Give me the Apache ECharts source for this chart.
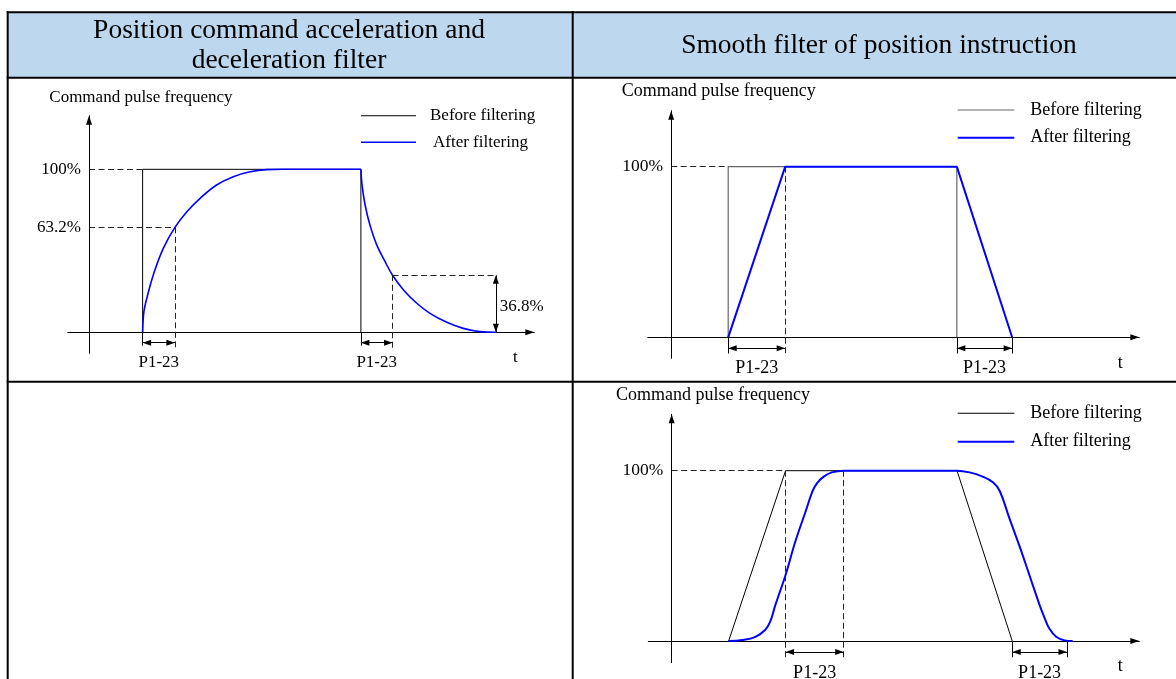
<!DOCTYPE html>
<html>
<head>
<meta charset="utf-8">
<title>Position command filters</title>
<script src="https://cdn.jsdelivr.net/npm/echarts@6.0.0/dist/echarts.min.js"></script>
<style>
  html, body { margin: 0; padding: 0; background: #fff; }
  #chart { width: 1176px; height: 679px; }
</style>
</head>
<body>
<div id="chart"></div>
<script>
// x is time in P1-23 units, y is the fraction of 100% command pulse frequency

// panel 1: acceleration / deceleration filter
var accBefore = [[1.66, 0], [1.66, 1], [8.42, 1], [8.42, 0]];
var accAfterRise = [[1.66, 0], [1.70, 0.127], [1.79, 0.208], [1.99, 0.352], [2.30, 0.515], [2.66, 0.644],
  [3.03, 0.740], [3.44, 0.822], [3.95, 0.904], [4.47, 0.955], [4.99, 0.985], [5.50, 0.998], [6.00, 1], [8.42, 1]];
var accAfterFall = [[8.42, 1], [8.455, 0.904], [8.55, 0.781], [8.70, 0.658], [8.91, 0.536], [9.17, 0.433],
  [9.40, 0.350], [9.74, 0.260], [10.15, 0.178], [10.56, 0.116], [11.08, 0.061], [11.59, 0.024], [12.11, 0.004], [12.60, 0]];
var accWindows = [[1.66, 2.66], [8.42, 9.40]];
var accLevels = [1, 0.644, 0.35];
var accTailEnd = 12.6;
var accYTicks = [0.644, 1];
var accYLabels = ['63.2%', '100%'];

// panel 2: smooth filter, step command
var stepBefore = [[1.0, 0], [1.0, 1], [5.01, 1], [5.01, 0]];
var stepAfter = [[1.0, 0], [2.0, 1], [5.01, 1], [5.98, 0]];
var stepWindows = [[1.0, 2.0], [5.01, 5.98]];

// panel 3: smooth filter, ramp command
var rampBefore = [[1.0, 0], [2.0, 1], [5.01, 1], [5.98, 0]];
var rampAfter = [[1.0, 0], [1.24, 0.006], [1.47, 0.025], [1.64, 0.065], [1.73, 0.114], [1.82, 0.211], [2.0, 0.388],
  [2.17, 0.583], [2.35, 0.759], [2.47, 0.877], [2.55, 0.926], [2.67, 0.965], [2.81, 0.990], [3.02, 1], [5.01, 1],
  [5.23, 0.990], [5.46, 0.965], [5.64, 0.932], [5.76, 0.881], [5.93, 0.720], [6.11, 0.554], [6.28, 0.388],
  [6.46, 0.211], [6.55, 0.133], [6.63, 0.074], [6.75, 0.025], [6.90, 0.004], [7.04, 0]];
var rampWindows = [[2.0, 3.02], [5.98, 6.94]];

var smoothYTicks = [1];
var smoothYLabels = ['100%'];

var serif = 'Liberation Serif';
var arrowHead = 'path://M0,0M0,9L3,18L-3,18Z';
var blue = '#0000ff';

function seg(a, b) {
  return [{ coord: a }, { coord: b }];
}
function tagged(a, b, text, dist) {
  return [{ coord: a, label: { show: true, formatter: text, position: 'insideMiddleBottom', distance: dist } }, { coord: b }];
}

function xAxisFor(g, min, max, size, pad) {
  return {
    type: 'value', gridIndex: g, min: min, max: max,
    name: 't', nameLocation: 'end', nameGap: -19, nameMoveOverlap: false,
    nameTextStyle: { fontFamily: serif, fontSize: size, color: '#000', align: 'center', verticalAlign: 'top', padding: [pad, 0, 0, 0] },
    axisLine: { onZero: true, symbol: ['none', arrowHead], symbolSize: [6, 18], lineStyle: { color: '#000', width: 1 } },
    axisTick: { show: false }, axisLabel: { show: false }, splitLine: { show: false }
  };
}
// labels stay at the grid edge, so the margin is pulled back to sit next to the zero-crossing axis
function yAxisFor(g, min, max, ticks, labels, size, margin) {
  return {
    type: 'value', gridIndex: g, min: min, max: max,
    axisLine: { onZero: true, symbol: ['none', arrowHead], symbolSize: [6, 18], lineStyle: { color: '#000', width: 1 } },
    axisTick: { show: false }, splitLine: { show: false },
    axisLabel: {
      customValues: ticks, margin: margin, fontFamily: serif, fontSize: size, color: '#000',
      formatter: function (v) {
        for (var i = 0; i < ticks.length; i++) { if (Math.abs(ticks[i] - v) < 1e-6) return labels[i]; }
        return '';
      }
    }
  };
}
function markSeries(g, lines, dashed, arrows, size, points) {
  var s = {
    type: 'line', name: 'marks' + g + (dashed ? 'd' : '') + (arrows ? 'a' : ''),
    xAxisIndex: g, yAxisIndex: g, data: [], silent: true,
    markLine: {
      silent: true, animation: false,
      symbol: arrows ? [arrowHead, arrowHead] : 'none', symbolSize: [6, 17],
      label: { show: false, fontFamily: serif, fontSize: size, color: '#000' },
      lineStyle: { type: dashed ? [6, 3.5] : 'solid', color: dashed ? '#222' : '#000', width: 1 },
      emphasis: { disabled: true },
      data: lines
    }
  };
  if (points) {
    s.markPoint = {
      silent: true, animation: false, symbol: 'circle', symbolSize: 0,
      label: { show: true, position: 'right', distance: 4, fontFamily: serif, fontSize: size, color: '#000' },
      data: points
    };
  }
  return s;
}
function legendFor(left, top, gap, width, pad, size, beforeColor, afterIcon, afterPad) {
  return {
    orient: 'vertical', left: left, top: top, padding: 0, itemGap: gap,
    itemWidth: width, itemHeight: 14, selectedMode: false, symbolKeepAspect: true,
    textStyle: { fontFamily: serif, fontSize: size, color: '#000', lineHeight: 20, padding: [0, 0, 0, pad] },
    data: [
      { name: 'Before filtering', icon: 'path://M0,0H56V1H0Z', itemStyle: { color: beforeColor, borderWidth: 0 } },
      { name: 'After filtering', icon: afterIcon, itemStyle: { color: blue, borderWidth: 0 },
        textStyle: { padding: [0, 0, 0, afterPad] } }
    ]
  };
}

var chartDom = document.getElementById('chart');
var myChart = echarts.init(chartDom, null, { renderer: 'canvas' });

var accDashBottom = -0.096, accTickBottom = -0.082, accArrowY = -0.064;
var smDashBottom = -0.095, smArrowY = -0.064;

var option = {
  animation: false,
  backgroundColor: '#fff',
  textStyle: { fontFamily: serif },
  grid: [
    { left: 67.7, top: 115.7, width: 466.6, height: 237.6, containLabel: false, outerBoundsMode: 'none' },
    { left: 647.8, top: 110.7, width: 491.5, height: 247.6, containLabel: false, outerBoundsMode: 'none' },
    { left: 648.3, top: 414.3, width: 491, height: 248.4, containLabel: false, outerBoundsMode: 'none' }
  ],
  xAxis: [
    xAxisFor(0, -0.66, 13.79, 17, 17),
    xAxisFor(1, -0.41, 8.21, 18, 17),
    xAxisFor(2, -0.41, 8.21, 18, 16.7)
  ],
  yAxis: [
    yAxisFor(0, -0.129, 1.329, accYTicks, accYLabels, 17, -13.3),
    yAxisFor(1, -0.123, 1.328, smoothYTicks, smoothYLabels, 17.5, -15.4),
    yAxisFor(2, -0.127, 1.331, smoothYTicks, smoothYLabels, 17.5, -15)
  ],
  legend: [
    legendFor(361, 105.7, 6.6, 55, 9, 17, '#000', 'path://M0,0H35V1H0Z', 12),
    legendFor(957.7, 100, 7.7, 56.6, 11, 18, '#666', 'path://M0,0H28V1H0Z', 11),
    legendFor(957.7, 403.3, 8.4, 56.6, 11, 18, '#000', 'path://M0,0H28V1H0Z', 11)
  ],
  series: [
    // panel 1
    { type: 'line', name: 'Before filtering', xAxisIndex: 0, yAxisIndex: 0, data: accBefore, symbol: 'none', silent: true,
      color: '#000', lineStyle: { color: '#000', width: 1 } },
    { type: 'line', name: 'After filtering', xAxisIndex: 0, yAxisIndex: 0, data: accAfterRise, symbol: 'none', silent: true,
      color: blue, smooth: 0.4, lineStyle: { color: blue, width: 1.6 } },
    { type: 'line', name: 'After filtering', xAxisIndex: 0, yAxisIndex: 0, data: accAfterFall, symbol: 'none', silent: true,
      color: blue, smooth: 0.4, lineStyle: { color: blue, width: 1.6 } },
    markSeries(0, [
      seg([0, accLevels[0]], [accWindows[0][0], accLevels[0]]),
      seg([0, accLevels[1]], [accWindows[0][1], accLevels[1]]),
      seg([accWindows[0][1], accLevels[1]], [accWindows[0][1], accDashBottom]),
      seg([accWindows[1][1], accLevels[2]], [accTailEnd, accLevels[2]]),
      seg([accWindows[1][1], accLevels[2]], [accWindows[1][1], accDashBottom])
    ], true, false, 17),
    markSeries(0, [
      seg([accWindows[0][0], 0], [accWindows[0][0], accTickBottom]),
      seg([accWindows[1][0], 0], [accWindows[1][0], accTickBottom])
    ], false, false, 17),
    markSeries(0, [
      tagged([accWindows[0][0], accArrowY], [accWindows[0][1], accArrowY], 'P1-23', 11.3),
      tagged([accWindows[1][0], accArrowY], [accWindows[1][1], accArrowY], 'P1-23', 11.3),
      seg([accTailEnd, 0], [accTailEnd, accLevels[2]])
    ], false, true, 17, [{ coord: [accTailEnd, 0.157], label: { formatter: '36.8%' } }]),

    // panel 2
    { type: 'line', name: 'Before filtering', xAxisIndex: 1, yAxisIndex: 1, data: stepBefore, symbol: 'none', silent: true,
      color: '#666', lineStyle: { color: '#666', width: 1.2 } },
    { type: 'line', name: 'After filtering', xAxisIndex: 1, yAxisIndex: 1, data: stepAfter, symbol: 'none', silent: true,
      color: blue, lineStyle: { color: blue, width: 2 } },
    markSeries(1, [
      seg([0, 1], [stepWindows[0][0], 1]),
      seg([stepWindows[0][1], 1], [stepWindows[0][1], smDashBottom])
    ], true, false, 18),
    markSeries(1, [
      seg([stepWindows[0][0], 0], [stepWindows[0][0], smDashBottom]),
      seg([stepWindows[1][0], 0], [stepWindows[1][0], smDashBottom]),
      seg([stepWindows[1][1], 0], [stepWindows[1][1], smDashBottom])
    ], false, false, 18),
    markSeries(1, [
      tagged([stepWindows[0][0], smArrowY], [stepWindows[0][1], smArrowY], 'P1-23', 11),
      tagged([stepWindows[1][0], smArrowY], [stepWindows[1][1], smArrowY], 'P1-23', 11)
    ], false, true, 18),

    // panel 3
    { type: 'line', name: 'Before filtering', xAxisIndex: 2, yAxisIndex: 2, data: rampBefore, symbol: 'none', silent: true,
      color: '#000', lineStyle: { color: '#000', width: 1 } },
    { type: 'line', name: 'After filtering', xAxisIndex: 2, yAxisIndex: 2, data: rampAfter, symbol: 'none', silent: true,
      color: blue, smooth: 0.4, lineStyle: { color: blue, width: 2 } },
    markSeries(2, [
      seg([0, 1], [rampWindows[0][0], 1]),
      seg([rampWindows[0][0], 1], [rampWindows[0][0], smDashBottom]),
      seg([rampWindows[0][1], 1], [rampWindows[0][1], smDashBottom])
    ], true, false, 18),
    markSeries(2, [
      seg([rampWindows[1][0], 0], [rampWindows[1][0], smDashBottom]),
      seg([rampWindows[1][1], 0], [rampWindows[1][1], smDashBottom])
    ], false, false, 18),
    markSeries(2, [
      tagged([rampWindows[0][0], smArrowY], [rampWindows[0][1], smArrowY], 'P1-23', 12.5),
      tagged([rampWindows[1][0], smArrowY], [rampWindows[1][1], smArrowY], 'P1-23', 12.5)
    ], false, true, 18)
  ],
  graphic: [
    // table: header shading and borders
    { type: 'rect', z: -10, silent: true, shape: { x: 7.7, y: 12.3, width: 1170, height: 65.4 }, style: { fill: '#bdd7ee' } },
    { type: 'line', silent: true, shape: { x1: 6.7, y1: 12.3, x2: 1176, y2: 12.3 }, style: { stroke: '#000', lineWidth: 2 } },
    { type: 'line', silent: true, shape: { x1: 6.7, y1: 77.7, x2: 1176, y2: 77.7 }, style: { stroke: '#000', lineWidth: 2 } },
    { type: 'line', silent: true, shape: { x1: 6.7, y1: 381.8, x2: 1176, y2: 381.8 }, style: { stroke: '#000', lineWidth: 2 } },
    { type: 'line', silent: true, shape: { x1: 7.7, y1: 11.3, x2: 7.7, y2: 679 }, style: { stroke: '#000', lineWidth: 2 } },
    { type: 'line', silent: true, shape: { x1: 572.7, y1: 11.3, x2: 572.7, y2: 679 }, style: { stroke: '#000', lineWidth: 2 } },
    // header text
    { type: 'text', silent: true, x: 289, y: 46,
      style: { text: 'Position command acceleration and\ndeceleration filter', fontFamily: serif, fontSize: 27.5,
        lineHeight: 30.5, align: 'center', verticalAlign: 'middle', fill: '#000' } },
    { type: 'text', silent: true, x: 879, y: 45.7,
      style: { text: 'Smooth filter of position instruction', fontFamily: serif, fontSize: 27.5,
        align: 'center', verticalAlign: 'middle', fill: '#000' } },
    // y-axis titles
    { type: 'text', silent: true, x: 49.3, y: 97.6,
      style: { text: 'Command pulse frequency', fontFamily: serif, fontSize: 17, align: 'left', verticalAlign: 'middle', fill: '#000' } },
    { type: 'text', silent: true, x: 621.8, y: 90.8,
      style: { text: 'Command pulse frequency', fontFamily: serif, fontSize: 18, align: 'left', verticalAlign: 'middle', fill: '#000' } },
    { type: 'text', silent: true, x: 616, y: 395.5,
      style: { text: 'Command pulse frequency', fontFamily: serif, fontSize: 18, align: 'left', verticalAlign: 'middle', fill: '#000' } }
  ]
};

option && myChart.setOption(option);
</script>
</body>
</html>
